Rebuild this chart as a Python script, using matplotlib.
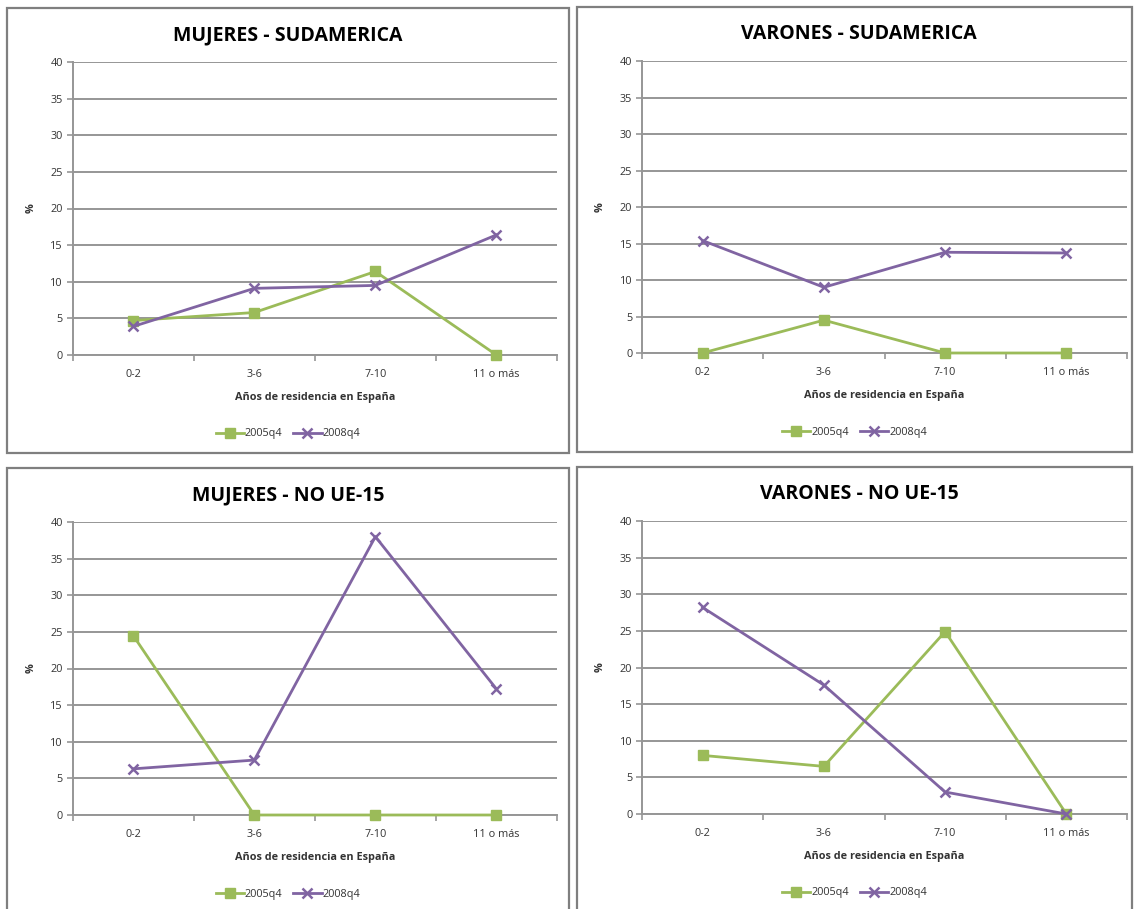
import matplotlib
matplotlib.use("Agg")
import matplotlib.pyplot as plt
from matplotlib.patches import Rectangle

categories = ["0-2", "3-6", "7-10", "11 o más"]
series_names = ["2005q4", "2008q4"]

muj_sud_2005 = [4.7, 5.8, 11.4, 0.0]
muj_sud_2008 = [3.9, 9.1, 9.5, 16.4]
var_sud_2005 = [0.0, 4.5, 0.0, 0.0]
var_sud_2008 = [15.4, 9.0, 13.8, 13.7]
muj_noue_2005 = [24.5, 0.0, 0.0, 0.0]
muj_noue_2008 = [6.3, 7.5, 38.0, 17.2]
var_noue_2005 = [8.0, 6.5, 24.9, 0.0]
var_noue_2008 = [28.2, 17.6, 3.0, 0.0]

titles = ["MUJERES - SUDAMERICA", "VARONES - SUDAMERICA",
          "MUJERES - NO UE-15", "VARONES - NO UE-15"]
data = [(muj_sud_2005, muj_sud_2008), (var_sud_2005, var_sud_2008),
        (muj_noue_2005, muj_noue_2008), (var_noue_2005, var_noue_2008)]
yticks = [0, 5, 10, 15, 20, 25, 30, 35, 40]
xlabel = "Años de residencia en España"
ylabel = "%"

GREEN = "#9BBB59"
PURPLE = "#8064A2"
GRID = "#969696"
TXT = "#333333"
FONT = ["Open Sans", "DejaVu Sans"]
plt.rcParams["font.family"] = FONT

W, H = 1134, 909
fig = plt.figure(figsize=(W / 100, H / 100), dpi=100)
fig.patch.set_facecolor("white")

# (plot x0, x1, ytop, ybot), (border x0, x1, y0, y1), title center x,y
layout = [
    ((72.7, 557, 62, 355), (7, 569, 8, 453), (288, 35)),
    ((642, 1127, 61, 353), (577, 1132, 7, 452), (859, 34)),
    ((72.7, 557, 522, 815), (7, 569, 468, 915), (288, 495)),
    ((642, 1127, 521, 814), (577, 1132, 467, 915), (859, 494)),
]

for (pa, bd, tc), title, (s05, s08) in zip(layout, titles, data):
    x0, x1, yt, yb = pa
    bx0, bx1, by0, by1 = bd
    fig.patches.append(Rectangle((bx0 / W, 1 - by1 / H), (bx1 - bx0) / W, (by1 - by0) / H,
                                 transform=fig.transFigure, fill=False,
                                 edgecolor="#7f7f7f", linewidth=1.6, zorder=0))
    ax = fig.add_axes([x0 / W, 1 - yb / H, (x1 - x0) / W, (yb - yt) / H])
    xs = list(range(len(categories)))
    ax.plot(xs, s05, color=GREEN, lw=2.0, marker="s", ms=7, mec=GREEN, mfc=GREEN,
            label=series_names[0], zorder=3, clip_on=False)
    ax.plot(xs, s08, color=PURPLE, lw=2.0, marker="x", ms=7.5, mew=1.8,
            label=series_names[1], zorder=4, clip_on=False)
    ax.set_xlim(-0.5, 3.5)
    ax.set_ylim(0, 40)
    ax.set_yticks(yticks)
    ax.set_yticklabels([str(v) for v in yticks])
    ax.set_xticks(xs)
    ax.set_xticklabels(categories)
    ax.set_xticks([-0.5, 0.5, 1.5, 2.5, 3.5], minor=True)
    ax.tick_params(axis="x", which="major", length=0, pad=10, labelsize=7.8, labelcolor=TXT)
    ax.tick_params(axis="x", which="minor", length=4, width=1.2, color=GRID, direction="out")
    ax.tick_params(axis="y", length=4, width=1.2, color=GRID, pad=3, labelsize=7.8, labelcolor=TXT)
    ax.grid(axis="y", color=GRID, lw=1.4)
    ax.set_axisbelow(True)
    for s in ("top", "right"):
        ax.spines[s].set_visible(False)
    for s in ("left", "bottom"):
        ax.spines[s].set_color(GRID)
        ax.spines[s].set_linewidth(1.4)
    ax.set_xlabel(xlabel, fontsize=7.8, fontweight="bold", color=TXT, labelpad=9)
    ax.set_ylabel(ylabel, fontsize=7.8, fontweight="bold", color=TXT, labelpad=10,
                  rotation=90)
    fig.text(tc[0] / W, 1 - tc[1] / H, title, ha="center", va="center",
             fontsize=14, fontweight="bold", color="black")
    h, l = ax.get_legend_handles_labels()
    leg_y = yb + 79
    fig.legend(h, l, loc="center", bbox_to_anchor=((bx0 + bx1) / 2 / W, 1 - leg_y / H),
               ncol=2, frameon=False, fontsize=7.8, handlelength=2.6, columnspacing=1.0,
               handletextpad=0.1, labelcolor=TXT)

fig.savefig("out.png", dpi=100, facecolor="white")
